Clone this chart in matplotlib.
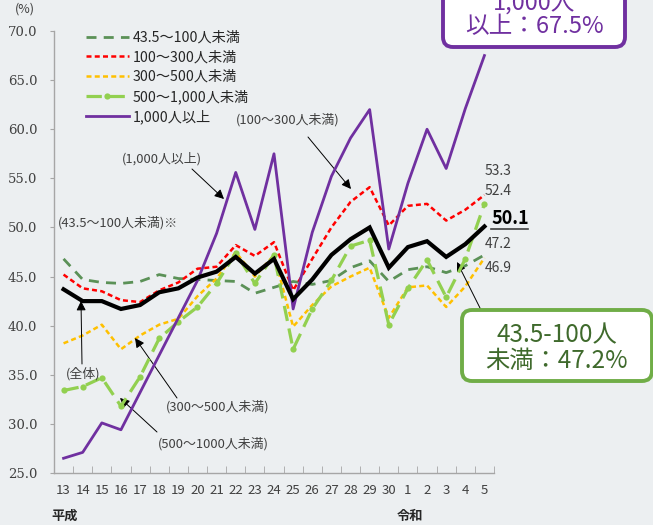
import matplotlib
matplotlib.use('Agg')
import matplotlib.pyplot as plt
from matplotlib.patches import FancyBboxPatch
from matplotlib.lines import Line2D
from matplotlib.transforms import IdentityTransform

plt.rcParams['font.family'] = ['Noto Sans CJK JP', 'DejaVu Sans']

# ---------------- data ----------------
years = ['13', '14', '15', '16', '17', '18', '19', '20', '21', '22', '23', '24',
         '25', '26', '27', '28', '29', '30', '1', '2', '3', '4', '5']
total = [43.7, 42.5, 42.5, 41.7, 42.1, 43.4, 43.8, 44.9, 45.5, 47.0, 45.3, 46.8,
         42.7, 44.7, 47.2, 48.8, 50.0, 45.9, 48.0, 48.6, 47.0, 48.3, 50.1]
s43_100 = [46.8, 44.7, 44.4, 44.3, 44.5, 45.2, 44.8, 44.7, 44.6, 44.5, 43.3, 43.9,
           44.5, 44.2, 44.6, 45.9, 46.6, 44.5, 45.7, 46.0, 45.4, 46.1, 47.2]
s100_300 = [45.2, 43.8, 43.5, 42.6, 42.4, 43.6, 44.4, 45.8, 46.0, 48.2, 47.1, 48.5,
            43.6, 46.8, 50.0, 52.6, 54.1, 50.2, 52.2, 52.4, 50.7, 51.8, 53.3]
s300_500 = [38.2, 39.0, 40.1, 37.6, 39.0, 40.1, 40.7, 43.0, 44.8, 47.5, 45.0, 47.2,
            39.9, 42.1, 44.0, 45.0, 45.9, 40.8, 43.9, 44.1, 41.9, 44.0, 46.9]
s500_1000 = [33.4, 33.8, 34.7, 31.8, 34.8, 38.7, 40.4, 41.9, 44.3, 47.4, 44.3, 47.2,
             37.6, 41.7, 44.6, 48.1, 48.7, 40.1, 43.8, 46.7, 42.9, 46.8, 52.4]
s1000 = [26.5, 27.1, 30.1, 29.4, 33.2, 37.0, 40.8, 44.6, 49.4, 55.6, 49.8, 57.5,
         41.7, 49.5, 55.2, 59.1, 62.0, 47.8, 54.5, 60.0, 56.0, 62.1, 67.5]
series_labels = ['43.5～100人未満', '100～300人未満', '300～500人未満',
                 '500～1,000人未満', '1,000人以上']
end_labels = ['53.3', '52.4', '47.2', '46.9']

# ---------------- style ----------------
BG = '#eceff1'
C_DG = '#5b9157'
C_RED = '#ff0000'
C_YEL = '#ffc000'
C_LG = '#92d050'
C_PUR = '#7030a0'
TXT = '#404040'

W, H = 653, 525
fig = plt.figure(figsize=(W / 100, H / 100), dpi=100, facecolor=BG)
ax = fig.add_axes([54 / W, 1 - 473 / H, 440 / W, 442 / H])
ax.set_facecolor(BG)


def P(x, y):
    return (x / W, 1 - y / H)


x = list(range(len(years)))
h_dg, = ax.plot(x, s43_100, color=C_DG, lw=2.0, dashes=(3.6, 2.6), zorder=2,
                label=series_labels[0])
h_yel, = ax.plot(x, s300_500, color=C_YEL, lw=1.8, dashes=(2.0, 1.3), zorder=3,
                 label=series_labels[2])
h_lg, = ax.plot(x, s500_1000, color=C_LG, lw=2.3, dashes=(4.8, 2.4), zorder=4,
                marker='o', markersize=4.5, markeredgewidth=0, label=series_labels[3])
h_red, = ax.plot(x, s100_300, color=C_RED, lw=1.8, dashes=(2.0, 1.3), zorder=5,
                 label=series_labels[1])
h_pur, = ax.plot(x, s1000, color=C_PUR, lw=2.0, zorder=6, label=series_labels[4])
ax.plot(x, total, color='black', lw=3.0, zorder=7, solid_joinstyle='miter')

ax.set_xlim(-0.5, len(years) - 0.5)
ax.set_ylim(25, 70)
ax.set_yticks([25, 30, 35, 40, 45, 50, 55, 60, 65, 70])
ax.set_yticklabels([f'{v:.1f}' for v in [25, 30, 35, 40, 45, 50, 55, 60, 65, 70]],
                   family='DejaVu Serif', fontsize=9.5, color=TXT)
ax.set_xticks(x)
ax.set_xticklabels(years, fontsize=9.5, color=TXT)
ax.set_xticks([i - 0.5 for i in range(len(years) + 1)], minor=True)
ax.tick_params(axis='x', which='major', length=0, pad=8)
ax.tick_params(axis='x', which='minor', direction='in', length=5, color='#a6a6a6')
ax.tick_params(axis='y', direction='out', length=3, color='#a6a6a6', pad=9)
for s in ['top', 'right']:
    ax.spines[s].set_visible(False)
for s in ['left', 'bottom']:
    ax.spines[s].set_color('#a6a6a6')
    ax.spines[s].set_linewidth(1.0)

leg = ax.legend(handles=[h_dg, h_red, h_yel, h_lg, h_pur], loc='upper left',
                bbox_to_anchor=P(86, 31), bbox_transform=fig.transFigure,
                frameon=False, fontsize=10.2, handlelength=3.0, handletextpad=0.3,
                labelspacing=0.38, borderpad=0, borderaxespad=0)
for t in leg.get_texts():
    t.set_color('#262626')

# ---------------- text ----------------
fig.text(*P(25, 9), '(%)', fontsize=9, color=TXT, ha='center', va='center')
fig.text(*P(65, 516), '平成', fontsize=9.5, fontweight='bold', color='#262626',
         ha='center', va='center')
fig.text(*P(410, 516), '令和', fontsize=9.5, fontweight='bold', color='#262626',
         ha='center', va='center')

fig.text(*P(118, 223), '(43.5～100人未満)※', fontsize=9.3, color=TXT,
         ha='center', va='center')

arrow = dict(arrowstyle='-|>', color='black', lw=0.7, mutation_scale=14,
             shrinkA=0, shrinkB=0)
ann = [
    ('(1,000人以上)', (162, 159), (192, 169), (224, 199)),
    ('(100～300人未満)', (288, 120), (308, 137), (351, 189)),
    ('(全体)', (83, 374), (82, 364), (81, 301)),
    ('(300～500人未満)', (218, 407), (177, 398), (135, 338)),
    ('(500～1000人未満)', (213, 444), (157, 432), (120, 398)),
]
for txt, tpos, a0, a1 in ann:
    fig.text(*P(*tpos), txt, fontsize=9.3, color=TXT, ha='center', va='center')
    ax.annotate('', xy=P(*a1), xytext=P(*a0), xycoords='figure fraction',
                textcoords='figure fraction', arrowprops=arrow)

# end value labels
fig.text(*P(498, 171), end_labels[0], fontsize=10, color=TXT, ha='center', va='center')
fig.text(*P(498, 191), end_labels[1], fontsize=10, color=TXT, ha='center', va='center')
fig.text(*P(498, 244), end_labels[2], fontsize=10, color=TXT, ha='center', va='center')
fig.text(*P(498, 268), end_labels[3], fontsize=10, color=TXT, ha='center', va='center')
fig.text(*P(510, 219), f'{total[-1]:.1f}', fontsize=13, fontweight='bold',
         color='black', ha='center', va='center')
fig.add_artist(Line2D([491 / W, 528 / W], [1 - 229 / H, 1 - 229 / H],
                      transform=fig.transFigure, color='#404040', lw=1.2))

# callout boxes
idt = IdentityTransform()
box1 = FancyBboxPatch((443, H - 47), 182, 70, boxstyle='round,pad=0,rounding_size=10',
                      transform=idt, fc='white', ec=C_PUR, lw=2.8, zorder=10)
fig.add_artist(box1)
fig.text(*P(534, 3), '1,000人', fontsize=17, color=C_PUR, ha='center', va='center',
         zorder=11)
fig.text(*P(534, 27), f'以上：{s1000[-1]:.1f}%', fontsize=17, color=C_PUR,
         ha='center', va='center', zorder=11)

box2 = FancyBboxPatch((462, H - 381), 190, 71, boxstyle='round,pad=0,rounding_size=10',
                      transform=idt, fc='white', ec='#70ad47', lw=2.8, zorder=10)
fig.add_artist(box2)
fig.text(*P(557, 335), '43.5-100人', fontsize=17.5, color='#3f6a2c', ha='center',
         va='center', zorder=11)
fig.text(*P(557, 361), f'未満：{s43_100[-1]:.1f}%', fontsize=17.5, color='#3f6a2c',
         ha='center', va='center', zorder=11)
ax.annotate('', xy=P(457, 262), xytext=P(481, 310), xycoords='figure fraction',
            textcoords='figure fraction', arrowprops=arrow)

fig.savefig('out.png', dpi=100, facecolor=BG)
